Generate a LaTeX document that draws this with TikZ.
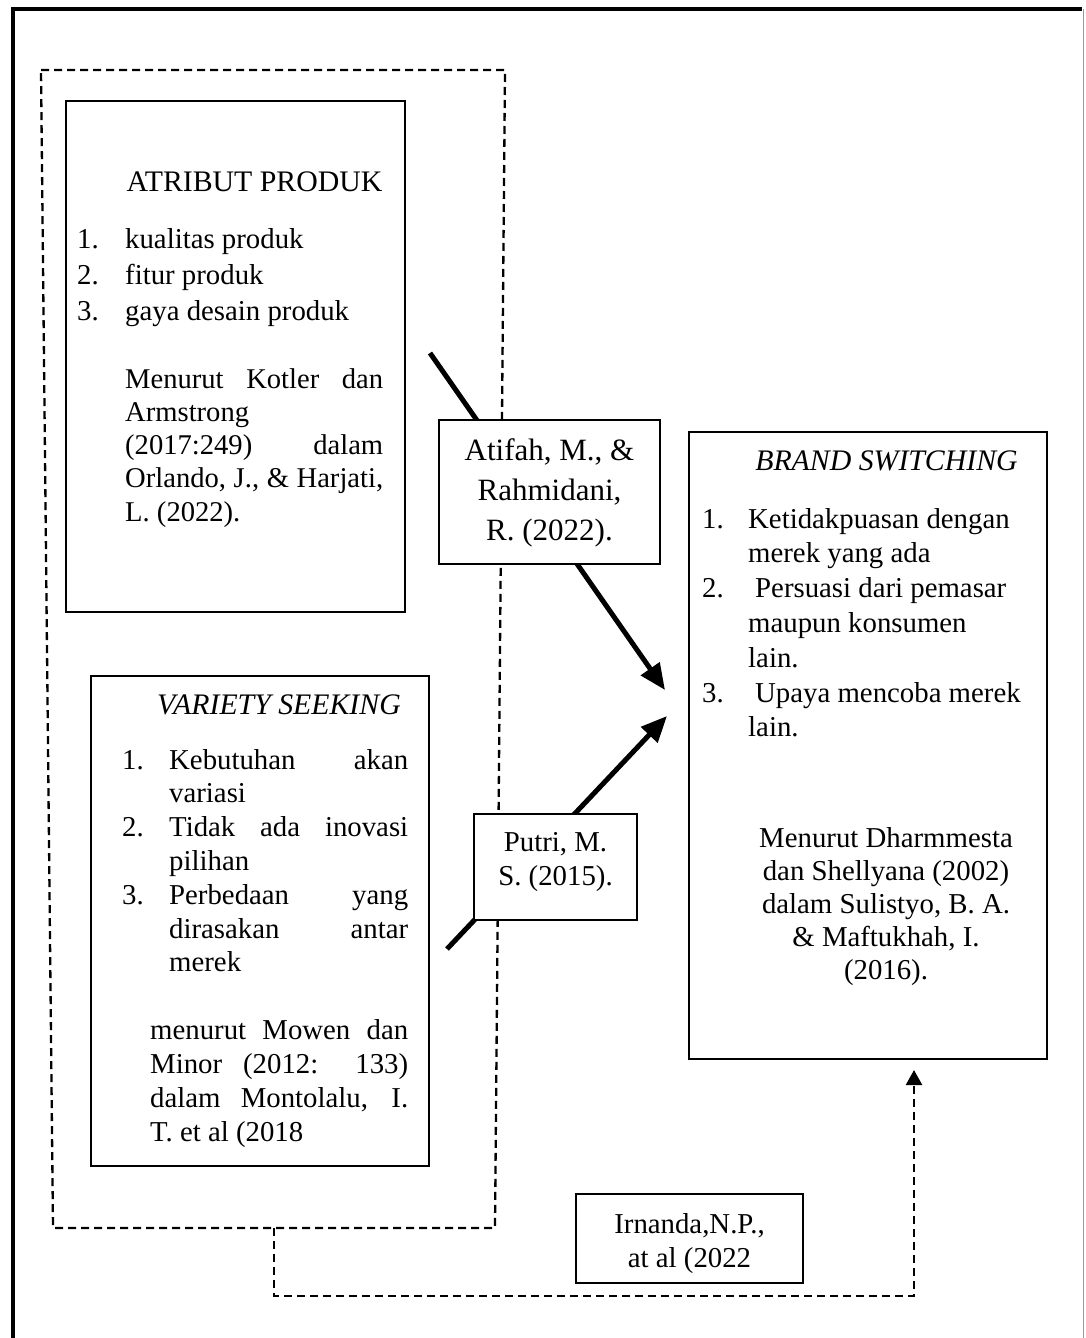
\documentclass[tikz,border=0pt]{standalone}
\usepackage{fontspec}
\setmainfont{Liberation Serif}
\usetikzlibrary{arrows.meta,calc}
\newcommand\JL[2]{\makebox[#1][s]{#2}}
\newcommand\NUM[2]{\makebox[#1][l]{#2}}
\begin{document}
\begin{tikzpicture}[x=1pt,y=-1pt,
  box/.style={draw,line width=2.5pt,inner sep=0pt,fill=white},
  cbox/.style={draw,line width=2pt,inner sep=0pt,fill=white},
  txt/.style={inner sep=0pt,anchor=base west,align=flush left},
  ctxt/.style={inner sep=0pt,anchor=base,align=flush center},
  ttl/.style={inner sep=0pt,anchor=base,font=\fontsize{29.8}{34}\selectfont},
  link/.style={line width=5pt,-{Triangle[length=26pt,width=22pt]}},
  dlink/.style={line width=2.3pt,dash pattern=on 8pt off 5pt},
  dtip/.style={-{Triangle[length=15pt,width=16pt]}},
]
\useasboundingbox (0,0) rectangle (1085,1338);
% outer frame
\draw[line width=4pt] (13,1338) -- (13,9) -- (1082,9);
\draw[black!40,line width=1.2pt] (1083.5,9) -- (1083.5,1338);

% dashed group box
\coordinate (dtl) at (41,70);
\coordinate (dtr) at (505,70);
\coordinate (dbr) at (495,1228);
\coordinate (dbl) at (53,1228);
\coordinate (dbm) at (274,1228);
\coordinate (dc1) at (274,1296);
\coordinate (dc2) at (914,1296);
\coordinate (btip) at (914,1070);
\draw[dlink] (dtl) -- (dtr) -- (dbr) -- (dbl) -- cycle;
\draw[dlink,dtip] (dbm) -- (dc1) -- (dc2) -- (btip);

% arrows
\coordinate (a1s) at (430,353);
\coordinate (a1e) at (665,690);
\coordinate (a2s) at (447,949);
\coordinate (a2e) at (667,716);
\draw[link] (a1s) -- (a1e);
\draw[link] (a2s) -- (a2e);

% boxes
\node[box,minimum width=339pt,minimum height=511pt] (atr) at (235.5,356.5) {};
\node[box,minimum width=338pt,minimum height=490pt] (var) at (260,921) {};
\node[box,minimum width=358pt,minimum height=627pt] (brd) at (868,745.5) {};
\node[cbox,minimum width=221pt,minimum height=144pt] (atf) at (549.5,492) {};
\node[cbox,minimum width=163pt,minimum height=106pt] (put) at (555.5,867) {};
\node[cbox,minimum width=227pt,minimum height=89pt] (irn) at (689.5,1238.5) {};

% Atribut produk
\node[ttl] (atrT) at (254.5,191) {ATRIBUT PRODUK};
\node[txt,text width=306pt,font=\fontsize{28.8}{36}\selectfont] (atrL) at (77,248)
  {\NUM{48pt}{1.}kualitas produk\\ \NUM{48pt}{2.}fitur produk\\ \NUM{48pt}{3.}gaya desain produk};
\node[txt,text width=258pt,font=\fontsize{28.6}{33.3}\selectfont] (atrR) at (125,388)
  {\JL{258pt}{Menurut Kotler dan}\\ Armstrong\\ \JL{258pt}{(2017:249) dalam}\\ \JL{258pt}{Orlando, J., \& Harjati,}\\ L. (2022).};

% Variety seeking
\node[ttl,font=\fontsize{29.8}{34}\selectfont\itshape] (varT) at (279,714) {VARIETY SEEKING};
\node[txt,text width=286pt,font=\fontsize{28.8}{33.8}\selectfont] (varL) at (122,769)
  {\NUM{47pt}{1.}\JL{239pt}{Kebutuhan akan}\\ \hspace*{47pt}variasi\\
   \NUM{47pt}{2.}\JL{239pt}{Tidak ada inovasi}\\ \hspace*{47pt}pilihan\\
   \NUM{47pt}{3.}\JL{239pt}{Perbedaan yang}\\ \hspace*{47pt}\JL{239pt}{dirasakan antar}\\ \hspace*{47pt}merek};
\node[txt,text width=258pt,font=\fontsize{28.8}{34}\selectfont] (varR) at (150,1039)
  {\JL{258pt}{menurut Mowen dan}\\ \JL{258pt}{Minor (2012: 133)}\\ \JL{258pt}{dalam Montolalu, I.}\\ T. et al (2018};

% Brand switching
\node[ttl,font=\fontsize{29.8}{34}\selectfont\itshape] (brdT) at (886.5,470) {BRAND SWITCHING};
\node[txt,text width=340pt,font=\fontsize{28.8}{34.8}\selectfont] (brdL) at (702,528)
  {\NUM{46pt}{1.}Ketidakpuasan dengan\\ \hspace*{46pt}merek yang ada\\
   \NUM{46pt}{2.}\hspace*{7pt}Persuasi dari pemasar\\ \hspace*{46pt}maupun konsumen\\ \hspace*{46pt}lain.\\
   \NUM{46pt}{3.}\hspace*{7pt}Upaya mencoba merek\\ \hspace*{46pt}lain.};
\node[ctxt,text width=340pt,font=\fontsize{28.8}{33.2}\selectfont] (brdR) at (886,847)
  {Menurut Dharmmesta\\ dan Shellyana (2002)\\ dalam Sulistyo, B. A.\\ \& Maftukhah, I.\\ (2016).};

% citations
\node[ctxt,text width=220pt,font=\fontsize{31}{40}\selectfont] (atfT) at (549.5,460.7)
  {Atifah, M., \&\\ Rahmidani,\\ R. (2022).};
\node[ctxt,text width=163pt,font=\fontsize{28.8}{34}\selectfont] (putT) at (555.5,851)
  {Putri, M.\\ S. (2015).};
\node[ctxt,text width=226pt,font=\fontsize{28.8}{34}\selectfont] (irnT) at (689.5,1233)
  {Irnanda,N.P.,\\ at al (2022};
\end{tikzpicture}
\end{document}
